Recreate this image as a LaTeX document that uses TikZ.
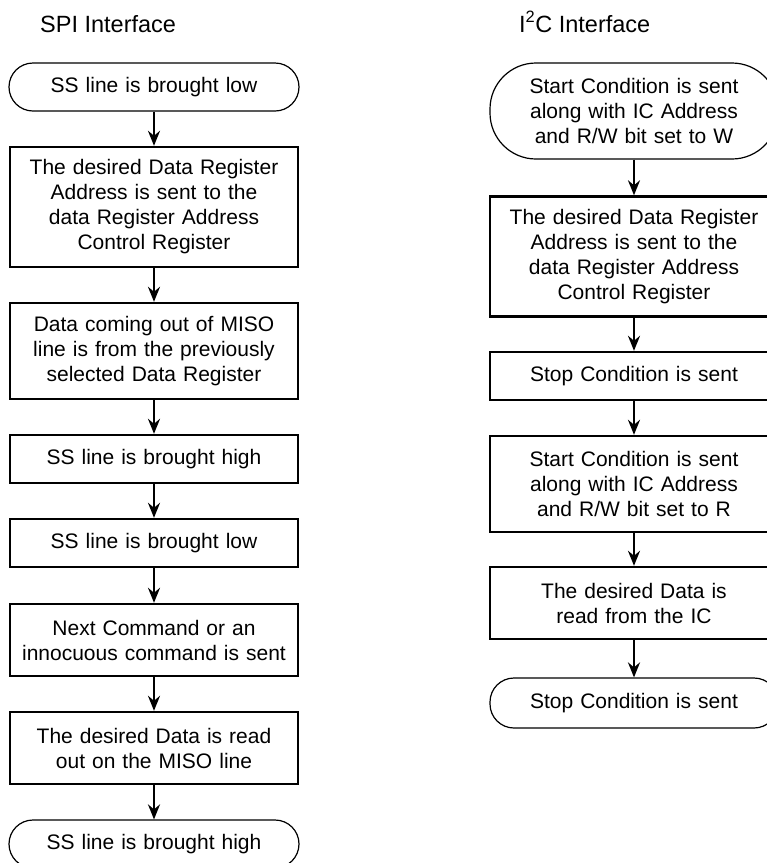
\documentclass[tikz,border=0pt]{standalone}
\usepackage{fontspec}
\setmainfont{Liberation Sans}
\usetikzlibrary{arrows.meta}
\begin{document}
\begin{tikzpicture}[x=1pt,y=-1pt,
  base/.style={draw,align=center,inner sep=0pt,text width=284pt,
    font=\fontsize{21}{25}\selectfont},
  box/.style={base,line width=2.4pt,minimum width=288pt},
  term/.style={base,line width=1.2pt,minimum width=290pt,rounded corners=24pt},
  bigterm/.style={base,line width=1.2pt,minimum width=288pt,rounded corners=46pt},
  title/.style={anchor=base west,inner sep=0pt,font=\fontsize{23.5}{28}\selectfont},
  flow/.style={-{Stealth[length=15pt,width=12pt,inset=5pt]},line width=2.4pt}]
\useasboundingbox (0,0) rectangle (767,863);
\clip (0,0) rectangle (767,863);
% titles
\node[title] (spi) at (40,32) {SPI Interface};
\node[title] (iic) at (519,32) {I\textsuperscript{2}C Interface};
% left column
\node[term,minimum height=48pt] (l1) at (154,87) {SS line is brought low};
\node[box,minimum height=120pt] (l2) at (154,207) {The desired Data Register\\Address is sent to the\\data Register Address\\Control Register};
\node[box,minimum height=96pt] (l3) at (154,351) {Data coming out of MISO\\line is from the previously\\selected Data Register};
\node[box,minimum height=48pt] (l4) at (154,459) {SS line is brought high};
\node[box,minimum height=48pt] (l5) at (154,543) {SS line is brought low};
\node[box,minimum height=72pt] (l6) at (154,640) {Next Command or an\\innocuous command is sent};
\node[box,minimum height=72pt] (l7) at (154,748) {The desired Data is read\\out on the MISO line};
\node[term,minimum height=48pt] (l8) at (154,844) {SS line is brought high};
% right column
\node[bigterm,minimum height=96pt] (r1) at (634,111) {Start Condition is sent\\along with IC Address\\and R/W bit set to W};
\node[box,minimum height=120pt] (r2) at (634,256.5) {The desired Data Register\\Address is sent to the\\data Register Address\\Control Register};
\node[box,minimum height=48pt] (r3) at (634,376) {Stop Condition is sent};
\node[box,minimum height=96pt] (r4) at (634,484) {Start Condition is sent\\along with IC Address\\and R/W bit set to R};
\node[box,minimum height=72pt] (r5) at (634,603) {The desired Data is\\read from the IC};
\node[term,minimum height=50pt,minimum width=288pt] (r6) at (634,703) {Stop Condition is sent};
% connectors
\foreach \a/\b in {l1/l2,l2/l3,l3/l4,l4/l5,l5/l6,l6/l7,l7/l8,r1/r2,r2/r3,r3/r4,r4/r5,r5/r6}
  \draw[flow] (\a) -- (\b);
\end{tikzpicture}
\end{document}
